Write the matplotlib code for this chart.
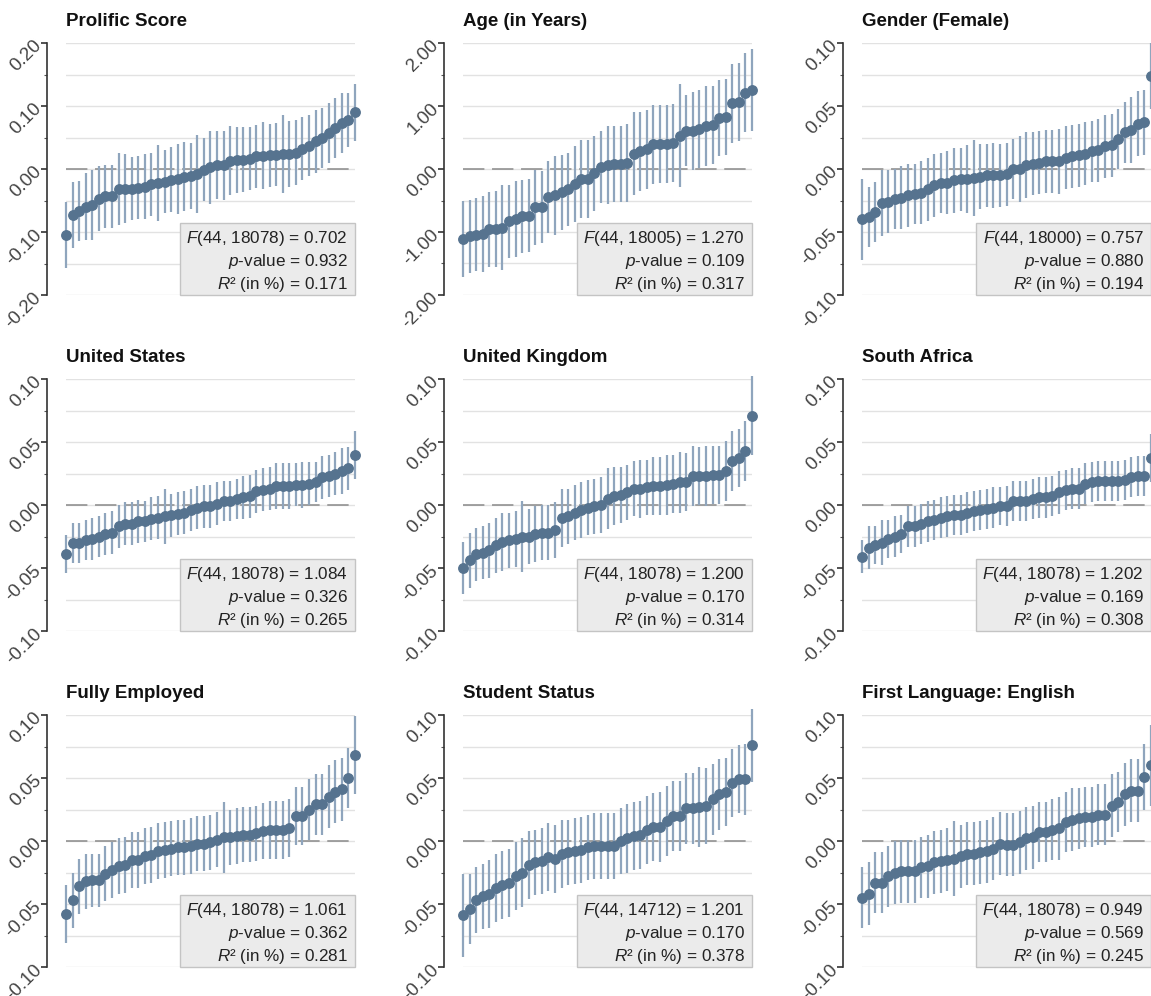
import numpy as np
import matplotlib
matplotlib.use('Agg')
import matplotlib.pyplot as plt
from matplotlib.patches import Rectangle

plt.rcParams['font.family'] = ['Liberation Sans', 'DejaVu Sans']
plt.rcParams['mathtext.fontset'] = 'custom'
plt.rcParams['mathtext.rm'] = 'Liberation Sans'
plt.rcParams['mathtext.it'] = 'Liberation Sans:italic'

# point estimates (sorted) and CI half-widths, 45 groups per panel
prolific_est = [-0.105, -0.073, -0.067, -0.060, -0.057, -0.047, -0.043, -0.043, -0.032, -0.031, -0.031, -0.030, -0.028, -0.024, -0.022,
                -0.020, -0.017, -0.016, -0.012, -0.011, -0.008, -0.001, 0.003, 0.006, 0.006, 0.013, 0.014, 0.015, 0.016, 0.020,
                0.021, 0.022, 0.023, 0.024, 0.024, 0.026, 0.032, 0.037, 0.044, 0.049, 0.057, 0.065, 0.073, 0.078, 0.090]
prolific_hw = [0.052, 0.053, 0.048, 0.053, 0.055, 0.052, 0.050, 0.050, 0.057, 0.055, 0.050, 0.050, 0.052, 0.050, 0.060,
               0.050, 0.052, 0.055, 0.055, 0.052, 0.062, 0.050, 0.058, 0.054, 0.055, 0.055, 0.052, 0.052, 0.050, 0.050,
               0.053, 0.050, 0.050, 0.062, 0.052, 0.052, 0.050, 0.048, 0.050, 0.048, 0.048, 0.047, 0.047, 0.043, 0.045]

age_est = [-1.11, -1.07, -1.04, -1.03, -0.96, -0.95, -0.93, -0.83, -0.79, -0.75, -0.74, -0.61, -0.60, -0.45, -0.42,
           -0.37, -0.32, -0.24, -0.16, -0.16, -0.07, 0.03, 0.06, 0.08, 0.08, 0.10, 0.24, 0.28, 0.31, 0.39,
           0.39, 0.39, 0.41, 0.53, 0.61, 0.61, 0.64, 0.68, 0.70, 0.81, 0.83, 1.04, 1.07, 1.21, 1.25]
age_hw = [0.60, 0.58, 0.58, 0.60, 0.60, 0.60, 0.67, 0.58, 0.60, 0.58, 0.58, 0.60, 0.57, 0.57, 0.62,
          0.60, 0.58, 0.60, 0.62, 0.62, 0.60, 0.57, 0.62, 0.60, 0.60, 0.62, 0.66, 0.63, 0.62, 0.63,
          0.62, 0.62, 0.62, 0.82, 0.57, 0.62, 0.62, 0.64, 0.62, 0.60, 0.60, 0.62, 0.62, 0.63, 0.65]

gender_est = [-0.040, -0.038, -0.034, -0.027, -0.026, -0.024, -0.023, -0.021, -0.020, -0.019, -0.016, -0.013, -0.011, -0.011, -0.009,
              -0.008, -0.008, -0.007, -0.006, -0.005, -0.005, -0.005, -0.004, 0.000, 0.000, 0.003, 0.004, 0.005, 0.006, 0.006,
              0.006, 0.009, 0.010, 0.011, 0.012, 0.014, 0.015, 0.018, 0.019, 0.024, 0.029, 0.031, 0.036, 0.037, 0.074]
gender_hw = [0.032, 0.024, 0.024, 0.026, 0.025, 0.024, 0.025, 0.025, 0.024, 0.025, 0.025, 0.025, 0.024, 0.025, 0.026,
             0.025, 0.027, 0.030, 0.026, 0.025, 0.026, 0.025, 0.025, 0.024, 0.026, 0.026, 0.025, 0.025, 0.025, 0.025,
             0.026, 0.025, 0.025, 0.025, 0.025, 0.024, 0.025, 0.025, 0.025, 0.024, 0.024, 0.026, 0.026, 0.026, 0.026]

us_est = [-0.039, -0.030, -0.030, -0.028, -0.027, -0.025, -0.023, -0.022, -0.017, -0.015, -0.015, -0.013, -0.013, -0.011, -0.010,
          -0.009, -0.008, -0.007, -0.006, -0.004, -0.002, -0.001, -0.001, 0.001, 0.003, 0.003, 0.005, 0.006, 0.007, 0.011,
          0.012, 0.013, 0.015, 0.015, 0.015, 0.016, 0.016, 0.017, 0.018, 0.022, 0.023, 0.025, 0.027, 0.029, 0.040]
us_hw = [0.015, 0.016, 0.016, 0.016, 0.017, 0.016, 0.017, 0.017, 0.017, 0.017, 0.017, 0.017, 0.016, 0.017, 0.017,
         0.022, 0.017, 0.017, 0.017, 0.017, 0.017, 0.017, 0.017, 0.017, 0.016, 0.016, 0.016, 0.017, 0.017, 0.017,
         0.017, 0.017, 0.018, 0.018, 0.018, 0.017, 0.018, 0.017, 0.016, 0.017, 0.017, 0.017, 0.018, 0.017, 0.019]

uk_est = [-0.050, -0.044, -0.039, -0.038, -0.036, -0.032, -0.029, -0.028, -0.027, -0.025, -0.025, -0.023, -0.022, -0.022, -0.020,
          -0.010, -0.009, -0.006, -0.004, -0.002, -0.001, 0.000, 0.005, 0.007, 0.008, 0.010, 0.013, 0.013, 0.014, 0.015,
          0.015, 0.016, 0.017, 0.018, 0.018, 0.023, 0.023, 0.023, 0.024, 0.024, 0.027, 0.035, 0.037, 0.043, 0.071]
uk_hw = [0.021, 0.022, 0.021, 0.021, 0.022, 0.022, 0.023, 0.022, 0.022, 0.028, 0.022, 0.022, 0.022, 0.022, 0.022,
         0.023, 0.022, 0.022, 0.022, 0.022, 0.022, 0.022, 0.024, 0.023, 0.022, 0.022, 0.022, 0.023, 0.022, 0.023,
         0.023, 0.024, 0.023, 0.024, 0.023, 0.024, 0.023, 0.024, 0.023, 0.023, 0.024, 0.024, 0.023, 0.024, 0.031]

sa_est = [-0.041, -0.034, -0.032, -0.030, -0.027, -0.025, -0.023, -0.017, -0.017, -0.015, -0.013, -0.012, -0.010, -0.009, -0.008,
          -0.008, -0.006, -0.005, -0.004, -0.003, -0.002, -0.001, -0.001, 0.003, 0.003, 0.003, 0.005, 0.006, 0.006, 0.007,
          0.010, 0.012, 0.013, 0.013, 0.017, 0.018, 0.019, 0.019, 0.019, 0.019, 0.020, 0.022, 0.023, 0.023, 0.037]
sa_hw = [0.013, 0.017, 0.015, 0.018, 0.015, 0.016, 0.015, 0.016, 0.016, 0.016, 0.016, 0.016, 0.016, 0.016, 0.016,
         0.016, 0.016, 0.016, 0.016, 0.016, 0.016, 0.015, 0.016, 0.016, 0.016, 0.016, 0.016, 0.016, 0.016, 0.016,
         0.017, 0.016, 0.016, 0.016, 0.016, 0.016, 0.016, 0.016, 0.016, 0.016, 0.016, 0.016, 0.016, 0.016, 0.019]

employed_est = [-0.058, -0.047, -0.036, -0.032, -0.031, -0.031, -0.026, -0.023, -0.020, -0.019, -0.015, -0.015, -0.012, -0.011, -0.008,
                -0.007, -0.006, -0.005, -0.005, -0.004, -0.002, -0.002, -0.001, 0.001, 0.003, 0.003, 0.004, 0.005, 0.005, 0.006,
                0.008, 0.009, 0.009, 0.009, 0.010, 0.020, 0.020, 0.025, 0.029, 0.029, 0.035, 0.039, 0.041, 0.050, 0.068]
employed_hw = [0.023, 0.022, 0.022, 0.022, 0.021, 0.021, 0.022, 0.022, 0.022, 0.022, 0.022, 0.022, 0.022, 0.022, 0.022,
               0.022, 0.022, 0.022, 0.022, 0.022, 0.022, 0.022, 0.022, 0.022, 0.028, 0.022, 0.022, 0.022, 0.022, 0.022,
               0.022, 0.023, 0.023, 0.023, 0.023, 0.023, 0.023, 0.024, 0.024, 0.024, 0.025, 0.025, 0.025, 0.024, 0.031]

student_est = [-0.059, -0.054, -0.047, -0.044, -0.042, -0.037, -0.035, -0.033, -0.028, -0.025, -0.019, -0.017, -0.016, -0.013, -0.014,
               -0.010, -0.009, -0.008, -0.007, -0.005, -0.004, -0.004, -0.004, -0.004, 0.000, 0.002, 0.004, 0.005, 0.009, 0.011,
               0.011, 0.016, 0.020, 0.020, 0.026, 0.026, 0.027, 0.028, 0.033, 0.037, 0.039, 0.046, 0.049, 0.049, 0.076]
student_hw = [0.033, 0.028, 0.026, 0.026, 0.027, 0.027, 0.027, 0.027, 0.027, 0.027, 0.027, 0.026, 0.026, 0.027, 0.027,
              0.027, 0.026, 0.026, 0.026, 0.026, 0.026, 0.026, 0.026, 0.026, 0.026, 0.027, 0.027, 0.027, 0.027, 0.027,
              0.028, 0.028, 0.028, 0.028, 0.028, 0.028, 0.032, 0.030, 0.028, 0.028, 0.027, 0.027, 0.027, 0.028, 0.029]

english_est = [-0.045, -0.042, -0.033, -0.033, -0.028, -0.025, -0.024, -0.024, -0.024, -0.021, -0.020, -0.017, -0.016, -0.015, -0.014,
               -0.012, -0.010, -0.010, -0.009, -0.008, -0.006, -0.002, -0.003, -0.003, -0.001, 0.002, 0.003, 0.007, 0.007, 0.009,
               0.010, 0.015, 0.017, 0.018, 0.019, 0.019, 0.021, 0.021, 0.028, 0.031, 0.037, 0.040, 0.040, 0.051, 0.060]
english_hw = [0.024, 0.025, 0.024, 0.024, 0.024, 0.025, 0.025, 0.025, 0.025, 0.024, 0.025, 0.025, 0.025, 0.025, 0.030,
              0.025, 0.025, 0.025, 0.025, 0.025, 0.025, 0.025, 0.025, 0.025, 0.025, 0.025, 0.025, 0.024, 0.024, 0.024,
              0.025, 0.024, 0.025, 0.024, 0.024, 0.024, 0.024, 0.024, 0.025, 0.024, 0.025, 0.025, 0.025, 0.026, 0.032]

titles = ['Prolific Score', 'Age (in Years)', 'Gender (Female)',
          'United States', 'United Kingdom', 'South Africa',
          'Fully Employed', 'Student Status', 'First Language: English']
f_df = ['44, 18078', '44, 18005', '44, 18000', '44, 18078', '44, 18078', '44, 18078', '44, 18078', '44, 14712', '44, 18078']
f_val = ['0.702', '1.270', '0.757', '1.084', '1.200', '1.202', '1.061', '1.201', '0.949']
p_val = ['0.932', '0.109', '0.880', '0.326', '0.170', '0.169', '0.362', '0.170', '0.569']
r2_val = ['0.171', '0.317', '0.194', '0.265', '0.314', '0.308', '0.281', '0.378', '0.245']

estimates = [prolific_est, age_est, gender_est, us_est, uk_est, sa_est, employed_est, student_est, english_est]
halfwidths = [prolific_hw, age_hw, gender_hw, us_hw, uk_hw, sa_hw, employed_hw, student_hw, english_hw]
# y range, tick step, grid step
scales = [(0.2, 0.1, 0.05), (2.0, 1.0, 0.5)] + [(0.1, 0.05, 0.025)] * 7

W, H = 1151, 996
fig = plt.figure(figsize=(W / 100, H / 100), dpi=100)
col_left = [66, 463, 862]
row_top = [43, 379, 715]
pw, ph = 289, 252

dot_col = '#56738f'
bar_col = '#8fa5bd'

for i in range(9):
    r, c = divmod(i, 3)
    ax = fig.add_axes([col_left[c] / W, 1 - (row_top[r] + ph) / H, pw / W, ph / H])
    est = np.array(estimates[i])
    hw = np.array(halfwidths[i])
    x = np.arange(len(est))
    lim, step, gstep = scales[i]

    grid = np.arange(-lim, lim + gstep / 2, gstep)
    for g in grid:
        ax.axhline(g, color='#e2e2e2', lw=1, zorder=0)
    ax.axhline(0, color='#8a8a8a', lw=1.1, dashes=(14, 5), zorder=1)

    ax.vlines(x, est - hw, est + hw, color=bar_col, lw=1.6, zorder=2, clip_on=False)
    ax.plot(x, est, 'o', ms=6.8, color=dot_col, zorder=3, clip_on=False)

    ax.set_xlim(0, len(est) - 1)
    ax.set_ylim(-lim, lim)
    ax.set_xticks([])
    for s in ['top', 'right', 'bottom']:
        ax.spines[s].set_visible(False)
    ax.spines['left'].set_position(('outward', 14))
    ax.spines['left'].set_color('#333333')
    ax.spines['left'].set_linewidth(1.2)

    ticks = np.arange(-lim, lim + step / 2, step)
    ax.set_yticks(ticks)
    ax.set_yticks(grid, minor=True)
    ax.set_yticklabels([f'{0 if abs(t) < 1e-9 else t:.2f}' for t in ticks])
    ax.tick_params(axis='y', which='major', length=4.5, width=1.2, color='#333333',
                   labelsize=13.5, labelcolor='#444444', pad=1)
    ax.tick_params(axis='y', which='minor', length=2.5, width=0.8, color='#555555')
    for lab in ax.get_yticklabels():
        lab.set_rotation(45)
        lab.set_ha('right')
        lab.set_va('center')
        lab.set_rotation_mode('anchor')

    ax.set_title(titles[i], loc='left', fontsize=13.5, fontweight='bold', pad=12, color='#111111')

    bw, bh = 175 / pw, 72 / ph
    ax.add_patch(Rectangle((1 - bw, 0), bw, bh, transform=ax.transAxes, fc='#ebebeb', ec='#c4c4c4',
                           lw=1, zorder=4, clip_on=False))
    lines = [rf'$\mathit{{F}}$({f_df[i]}) = {f_val[i]}',
             rf'$\mathit{{p}}$-value = {p_val[i]}',
             rf'$\mathit{{R}}$² (in %) = {r2_val[i]}']
    for ty, txt in zip([0.226, 0.131, 0.040], lines):
        ax.text(1 - 7 / pw, ty, txt, transform=ax.transAxes, ha='right', va='center',
                fontsize=12.3, color='#222222', zorder=5)

fig.savefig('out.png', dpi=100, facecolor='white')
